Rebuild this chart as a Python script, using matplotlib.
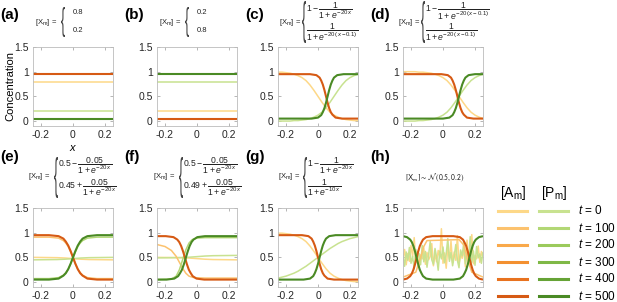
"""Initial conditions and steady states of [Am] / [Pm] for eight cases."""
import matplotlib

matplotlib.use("Agg")
import matplotlib.pyplot as plt
from matplotlib.font_manager import FontProperties
from matplotlib.lines import Line2D
from matplotlib.patches import PathPatch
from matplotlib.textpath import TextPath
from matplotlib.transforms import Affine2D
from matplotlib.ticker import FormatStrFormatter

plt.rcParams["font.family"] = ["Liberation Sans", "DejaVu Sans"]
plt.rcParams["mathtext.fontset"] = "custom"
plt.rcParams["mathtext.rm"] = "Liberation Sans"
plt.rcParams["mathtext.it"] = "Liberation Sans:italic"
plt.rcParams["mathtext.bf"] = "Liberation Sans:bold"
plt.rcParams["axes.unicode_minus"] = False

# ---------------------------------------------------------------- data
TIMES = [0, 100, 200, 300, 400, 500]
A_COLORS = ["#fdd888", "#fcc26e", "#f9a94b", "#f39030", "#e8721f", "#d65a14"]
P_COLORS = ["#c8e290", "#b2d775", "#9bca5c", "#7fb846", "#66a336", "#4a8a24"]

X_EDGE = [-0.25, 0.25]
X21 = [-0.25, -0.225, -0.2, -0.175, -0.15, -0.125, -0.1, -0.075, -0.05, -0.025, 0.0,
       0.025, 0.05, 0.075, 0.1, 0.125, 0.15, 0.175, 0.2, 0.225, 0.25]

# (a) / (b) constant profiles
A0_A, P0_A, A500_A, P500_A = [0.8, 0.8], [0.2, 0.2], [0.95, 0.95], [0.05, 0.05]
A0_B, P0_B, A500_B, P500_B = [0.2, 0.2], [0.8, 0.8], [0.05, 0.05], [0.95, 0.95]

# (c)
A0_C = [0.99, 0.99, 0.98, 0.97, 0.95, 0.92, 0.88, 0.82, 0.73, 0.62, 0.50,
        0.38, 0.27, 0.18, 0.12, 0.08, 0.05, 0.03, 0.02, 0.01, 0.01]
P0_C = [0.00, 0.00, 0.00, 0.00, 0.01, 0.01, 0.02, 0.03, 0.05, 0.08, 0.12,
        0.18, 0.27, 0.38, 0.50, 0.62, 0.73, 0.82, 0.88, 0.92, 0.95]
XA500_C = [-0.25, -0.05, -0.01, 0.01, 0.02, 0.03, 0.04, 0.05, 0.06, 0.07, 0.08, 0.09, 0.11, 0.15, 0.25]
A500_C = [0.95, 0.95, 0.93, 0.88, 0.82, 0.74, 0.63, 0.50, 0.37, 0.26, 0.18, 0.13, 0.07, 0.05, 0.05]
XP500_C = [-0.25, -0.04, 0.0, 0.02, 0.03, 0.04, 0.05, 0.06, 0.07, 0.08, 0.09, 0.10, 0.12, 0.16, 0.25]
P500_C = [0.05, 0.05, 0.07, 0.12, 0.18, 0.26, 0.37, 0.50, 0.63, 0.74, 0.82, 0.88, 0.93, 0.95, 0.95]

# (d)
A0_D = [1.00, 1.00, 1.00, 1.00, 0.99, 0.99, 0.98, 0.97, 0.95, 0.92, 0.88,
        0.82, 0.73, 0.62, 0.50, 0.38, 0.27, 0.18, 0.12, 0.08, 0.05]
P0_D = [0.00, 0.00, 0.00, 0.00, 0.01, 0.01, 0.02, 0.03, 0.05, 0.08, 0.12,
        0.18, 0.27, 0.38, 0.50, 0.62, 0.73, 0.82, 0.88, 0.92, 0.95]
XA500_D = [-0.25, -0.01, 0.03, 0.05, 0.06, 0.07, 0.08, 0.09, 0.10, 0.11, 0.12, 0.13, 0.15, 0.19, 0.25]
A500_D = [0.95, 0.95, 0.93, 0.88, 0.82, 0.74, 0.63, 0.50, 0.37, 0.26, 0.18, 0.13, 0.07, 0.05, 0.05]
XP500_D = [-0.25, 0.0, 0.04, 0.06, 0.07, 0.08, 0.09, 0.10, 0.11, 0.12, 0.13, 0.14, 0.16, 0.20, 0.25]
P500_D = [0.05, 0.05, 0.07, 0.12, 0.18, 0.26, 0.37, 0.50, 0.63, 0.74, 0.82, 0.88, 0.93, 0.95, 0.95]

# (e)
X7 = [-0.25, -0.1, -0.05, 0.0, 0.05, 0.1, 0.25]
A0_E = [0.50, 0.494, 0.487, 0.475, 0.463, 0.456, 0.45]
P0_E = [0.45, 0.456, 0.463, 0.475, 0.487, 0.494, 0.50]
X_E = [-0.25, -0.15, -0.09, -0.06, -0.045, -0.03, -0.015, 0.0, 0.015, 0.03, 0.045, 0.06, 0.09, 0.15, 0.25]
A100_E = [0.91, 0.91, 0.89, 0.84, 0.79, 0.72, 0.61, 0.49, 0.37, 0.26, 0.19, 0.14, 0.09, 0.07, 0.07]
P100_E = [0.07, 0.07, 0.09, 0.14, 0.19, 0.26, 0.37, 0.49, 0.61, 0.72, 0.79, 0.84, 0.89, 0.91, 0.91]
A500_E = [0.95, 0.95, 0.93, 0.88, 0.82, 0.74, 0.63, 0.50, 0.37, 0.26, 0.18, 0.13, 0.07, 0.05, 0.05]
P500_E = [0.05, 0.05, 0.07, 0.13, 0.18, 0.26, 0.37, 0.50, 0.63, 0.74, 0.82, 0.88, 0.93, 0.95, 0.95]

# (f)
A0_F = [0.50, 0.494, 0.487, 0.475, 0.463, 0.456, 0.45]
P0_F = [0.49, 0.496, 0.503, 0.515, 0.527, 0.534, 0.54]
XA100_F = [-0.25, -0.2, -0.16, -0.13, -0.11, -0.09, -0.07, -0.05, -0.02, 0.05, 0.25]
A100_F = [0.76, 0.72, 0.64, 0.52, 0.40, 0.28, 0.18, 0.12, 0.09, 0.08, 0.08]
XP100_F = [-0.25, -0.16, -0.13, -0.11, -0.09, -0.07, -0.05, -0.03, 0.0, 0.05, 0.25]
P100_F = [0.05, 0.06, 0.12, 0.25, 0.45, 0.65, 0.79, 0.86, 0.89, 0.90, 0.90]
XA500_F = [-0.25, -0.195, -0.147, -0.123, -0.111, -0.099, -0.087, -0.075, -0.063, -0.051,
           -0.039, -0.027, -0.003, 0.045, 0.25]
A500_F = [0.93, 0.93, 0.91, 0.86, 0.81, 0.73, 0.62, 0.49, 0.36, 0.25, 0.18, 0.12, 0.07, 0.05, 0.05]
XP500_F = [-0.25, -0.19, -0.142, -0.118, -0.106, -0.094, -0.082, -0.07, -0.058, -0.046,
           -0.034, -0.022, 0.002, 0.05, 0.25]
P500_F = [0.05, 0.05, 0.07, 0.12, 0.18, 0.25, 0.36, 0.49, 0.62, 0.73, 0.81, 0.86, 0.91, 0.93, 0.93]

# (g)
A0_G = [0.99, 0.99, 0.98, 0.97, 0.95, 0.92, 0.88, 0.82, 0.73, 0.62, 0.50,
        0.38, 0.27, 0.18, 0.12, 0.08, 0.05, 0.03, 0.02, 0.01, 0.01]
P0_G = [0.08, 0.10, 0.12, 0.15, 0.18, 0.22, 0.27, 0.32, 0.38, 0.44, 0.50,
        0.56, 0.62, 0.68, 0.73, 0.78, 0.82, 0.85, 0.88, 0.90, 0.92]
XA500_G = [-0.25, -0.1, -0.06, -0.04, -0.03, -0.02, -0.01, 0.0, 0.01, 0.02, 0.03, 0.04, 0.06, 0.1, 0.25]
A500_G = [0.95, 0.95, 0.93, 0.88, 0.82, 0.74, 0.63, 0.50, 0.37, 0.26, 0.18, 0.13, 0.07, 0.05, 0.05]
XP500_G = [-0.25, -0.09, -0.05, -0.03, -0.02, -0.01, 0.0, 0.01, 0.02, 0.03, 0.04, 0.05, 0.07, 0.11, 0.25]
P500_G = [0.05, 0.05, 0.07, 0.12, 0.18, 0.26, 0.37, 0.50, 0.63, 0.74, 0.82, 0.88, 0.93, 0.95, 0.95]

# (h) noisy initial condition
X51 = [round(-0.25 + 0.01 * i, 2) for i in range(51)]
A0_H = [0.48, 0.66, 0.35, 0.58, 0.42, 0.74, 0.51, 0.90, 0.40, 0.62,
        0.30, 0.55, 0.47, 0.69, 0.36, 0.60, 0.45, 0.52, 0.78, 0.33,
        0.56, 0.41, 0.64, 0.50, 1.08, 0.38, 0.59, 0.28, 0.70, 0.46,
        0.83, 0.39, 0.61, 0.44, 0.94, 0.36, 0.57, 0.48, 0.67, 0.31,
        0.85, 0.43, 0.60, 0.96, 0.37, 0.54, 0.47, 0.73, 0.40, 0.62, 0.50]
P0_H = [0.55, 0.32, 0.61, 0.44, 0.70, 0.38, 0.52, 0.27, 0.66, 0.48,
        0.58, 0.35, 0.74, 0.41, 0.62, 0.30, 0.55, 0.82, 0.45, 0.36,
        0.68, 0.50, 0.24, 0.63, 0.47, 0.71, 0.39, 0.57, 0.88, 0.42,
        0.60, 0.33, 0.52, 0.76, 0.44, 0.29, 0.65, 0.53, 0.80, 0.37,
        0.58, 0.46, 0.92, 0.40, 0.63, 0.34, 0.72, 0.49, 0.57, 0.38, 0.61]
XA100_H = [-0.25, -0.17, -0.14, -0.12, -0.10, 0.10, 0.13, 0.15, 0.18, 0.25]
A100_H = [0.10, 0.20, 0.50, 0.72, 0.84, 0.86, 0.75, 0.50, 0.20, 0.10]
X_H = [-0.25, -0.225, -0.205, -0.195, -0.185, -0.175, -0.165, -0.155, -0.145, -0.135, -0.125,
       -0.105, -0.065, 0.065, 0.105, 0.125, 0.135, 0.145, 0.155, 0.165, 0.175, 0.185, 0.195,
       0.205, 0.225, 0.25]
A500_H = [0.05, 0.07, 0.12, 0.17, 0.25, 0.36, 0.49, 0.62, 0.73, 0.80, 0.86, 0.91, 0.93,
          0.93, 0.91, 0.86, 0.80, 0.73, 0.62, 0.49, 0.36, 0.25, 0.17, 0.12, 0.07, 0.05]
P500_H = [0.93, 0.91, 0.86, 0.81, 0.73, 0.62, 0.49, 0.36, 0.25, 0.18, 0.12, 0.07, 0.05,
          0.05, 0.07, 0.12, 0.18, 0.25, 0.36, 0.49, 0.62, 0.73, 0.81, 0.86, 0.91, 0.93]

# curves per panel: (x, y, species, time index)
CURVES = {
    "a": [(X_EDGE, A0_A, "A", 0), (X_EDGE, P0_A, "P", 0), (X_EDGE, A500_A, "A", 5), (X_EDGE, P500_A, "P", 5)],
    "b": [(X_EDGE, A0_B, "A", 0), (X_EDGE, P0_B, "P", 0), (X_EDGE, A500_B, "A", 5), (X_EDGE, P500_B, "P", 5)],
    "c": [(X21, A0_C, "A", 0), (X21, P0_C, "P", 0), (XA500_C, A500_C, "A", 5), (XP500_C, P500_C, "P", 5)],
    "d": [(X21, A0_D, "A", 0), (X21, P0_D, "P", 0), (XA500_D, A500_D, "A", 5), (XP500_D, P500_D, "P", 5)],
    "e": [(X7, A0_E, "A", 0), (X7, P0_E, "P", 0), (X_E, A100_E, "A", 1), (X_E, P100_E, "P", 1),
          (X_E, A500_E, "A", 5), (X_E, P500_E, "P", 5)],
    "f": [(X7, A0_F, "A", 0), (X7, P0_F, "P", 0), (XA100_F, A100_F, "A", 1), (XP100_F, P100_F, "P", 1),
          (XA500_F, A500_F, "A", 5), (XP500_F, P500_F, "P", 5)],
    "g": [(X21, A0_G, "A", 0), (X21, P0_G, "P", 0), (XA500_G, A500_G, "A", 5), (XP500_G, P500_G, "P", 5)],
    "h": [(X51, A0_H, "A", 0), (X51, P0_H, "P", 0), (XA100_H, A100_H, "A", 1),
          (X_H, A500_H, "A", 5), (X_H, P500_H, "P", 5)],
}

# ---------------------------------------------------------------- layout (pixels)
W, H = 617, 302
COL_X = [33, 157, 278, 403]
AX_W = 80
ROW_Y = [(47, 126), (208, 287)]

fig = plt.figure(figsize=(W / 100, H / 100), dpi=100)


def fx(px):
    return px / W


def fy(py):
    return 1 - py / H


def add_brace(x, y_top, y_bot, w=4):
    tp = TextPath((0, 0), "{", size=1, prop=FontProperties(family="Liberation Sans"))
    ext = tp.get_extents()
    tr = (Affine2D().translate(-ext.x0, -ext.y0)
          .scale(w / ext.width / W, (y_bot - y_top) / ext.height / H)
          .translate(fx(x), fy(y_bot)) + fig.transFigure)
    fig.add_artist(PathPatch(tp, transform=tr, facecolor="#444444", lw=0))


def add_formula(x, y, lines, brace_x, y_top, y_bot, line_x, line_y, size=5.5):
    fig.text(fx(x), fy(y), r"$[\mathrm{X}_\mathrm{m}]$ =", fontsize=5.5,
             ha="left", va="center", color="#222222")
    add_brace(brace_x, y_top, y_bot)
    for txt, ly in zip(lines, line_y):
        fig.text(fx(line_x), fy(ly), txt, fontsize=size, ha="left", va="center", color="#222222")


for k, key in enumerate("abcdefgh"):
    row, col = divmod(k, 4)
    y0, y1 = ROW_Y[row]
    ax = fig.add_axes([fx(COL_X[col]), fy(y1), AX_W / W, (y1 - y0) / H])
    for xs, ys, sp, ti in CURVES[key]:
        color = A_COLORS[ti] if sp == "A" else P_COLORS[ti]
        ax.plot(xs, ys, color=color, lw=1.5 if ti == 5 else 1.1, solid_capstyle="butt")
    ax.set_xlim(-0.25, 0.25)
    ax.set_ylim(-0.1, 1.5)
    ax.set_xticks([-0.2, 0, 0.2])
    ax.set_yticks([0, 0.5, 1, 1.5])
    ax.xaxis.set_major_formatter(FormatStrFormatter("%g"))
    ax.yaxis.set_major_formatter(FormatStrFormatter("%g"))
    ax.tick_params(direction="in", length=2, width=0.5, color="#999999", labelsize=7.5,
                   labelcolor="#262626", top=True, right=True, pad=3)
    for s in ax.spines.values():
        s.set_color("#bbbbbb")
        s.set_linewidth(0.6)
    # panel letter
    fig.text(fx(COL_X[col] - 33), fy(15 if row == 0 else 157), f"({key})",
             fontsize=11, fontweight="bold", ha="left", va="center")

fig.text(fx(10), fy(86), "Concentration", rotation=90, fontsize=8, ha="center", va="center")
fig.text(fx(73), fy(148), "$x$", fontsize=8, ha="center", va="center")

# formulas
FR = 6.2
add_formula(35, 22, ["0.8", "0.2"], 61, 7, 37, 73, [12, 31])
add_formula(159, 22, ["0.2", "0.8"], 185, 7, 37, 197, [12, 31])
add_formula(279, 22, [r"$1 - \dfrac{1}{1+e^{-20\,x}}$", r"$\dfrac{1}{1+e^{-20\,(x-0.1)}}$"],
            302, 1, 43, 306, [11, 32], FR)
add_formula(398, 22, [r"$1 - \dfrac{1}{1+e^{-20\,(x-0.1)}}$", r"$\dfrac{1}{1+e^{-20\,(x-0.1)}}$"],
            421, 1, 43, 425, [11, 32], FR)
add_formula(28, 176, [r"$0.5 - \dfrac{0.05}{1+e^{-20\,x}}$", r"$0.45 + \dfrac{0.05}{1+e^{-20\,x}}$"],
            54, 157, 198, 58, [166, 188], FR)
add_formula(153, 176, [r"$0.5 - \dfrac{0.05}{1+e^{-20\,x}}$", r"$0.49 + \dfrac{0.05}{1+e^{-20\,x}}$"],
            179, 157, 198, 183, [166, 188], FR)
add_formula(278, 176, [r"$1 - \dfrac{1}{1+e^{-20\,x}}$", r"$\dfrac{1}{1+e^{-10\,x}}$"],
            303, 157, 198, 307, [166, 188], FR)
fig.text(fx(405), fy(178), r"$[\mathrm{X}_\mathrm{m}] \sim \mathcal{N}\,(0.5,0.2)$",
         fontsize=5.5, ha="left", va="center", math_fontfamily="stixsans", color="#222222")

# legend
fig.text(fx(513), fy(193), r"$[\mathrm{A}_\mathrm{m}]$", fontsize=10, ha="center", va="center")
fig.text(fx(554), fy(193), r"$[\mathrm{P}_\mathrm{m}]$", fontsize=10, ha="center", va="center")
for i, t in enumerate(TIMES):
    yy = fy(211 + 17 * i)
    fig.add_artist(Line2D([fx(498), fx(527)], [yy, yy], transform=fig.transFigure,
                          color=A_COLORS[i], lw=2.2))
    fig.add_artist(Line2D([fx(539), fx(568)], [yy, yy], transform=fig.transFigure,
                          color=P_COLORS[i], lw=2.2))
    fig.text(fx(578), yy, f"$t$ = {t}", fontsize=8.5, ha="left", va="center")

fig.savefig("out.png", dpi=100)
